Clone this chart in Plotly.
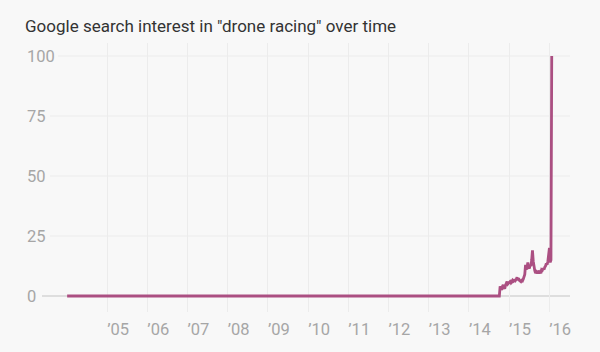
import plotly.graph_objects as go
import pandas as pd

# ---- data ----
title_text = 'Google search interest in "drone racing" over time'
year_ticks = ["2005-01-01", "2006-01-01", "2007-01-01", "2008-01-01", "2009-01-01", "2010-01-01",
              "2011-01-01", "2012-01-01", "2013-01-01", "2014-01-01", "2015-01-01", "2016-01-01"]
year_labels = ["’05", "’06", "’07", "’08", "’09", "’10", "’11", "’12", "’13", "’14", "’15", "’16"]
y_ticks = [0, 25, 50, 75, 100]

# flat (zero) period
flat_dates = ["2004-01-04"]
flat_values = [0]
# weekly values from late Sep 2014 to Jan 2016
active_start = "2014-09-28"
active_values = [0, 0, 4, 3.5, 2.5, 4, 4.6, 3.5, 3, 4.5,
                 5.5, 6, 5, 5.5, 6, 6, 5.5, 6, 6.5, 6,
                 6.2, 7, 6.5, 7, 7.8, 6.5, 7.4, 6.5, 6.2, 6,
                 6.5, 6.3, 7, 8.5, 9, 13, 11, 12, 14, 12,
                 11.5, 13, 12.5, 15, 19, 14.5, 12, 10.5, 9.5, 10,
                 9.4, 10.5, 10, 9.4, 10, 9.5, 11, 10.8, 11.5, 11,
                 12, 12.5, 13.6, 13, 14.5, 17, 20, 14, 15, 100]

active_dates = list(pd.date_range(active_start, periods=len(active_values), freq="7D").strftime("%Y-%m-%d"))
dates = flat_dates + active_dates
values = flat_values + active_values

LINE = "#ab4f82"
BG = "#f8f8f8"
GRID = "#ececec"
TICK = "#a6a6a6"
FONT = "Roboto"

L, R = 24, 570
W = R - L

fig = go.Figure()
fig.add_trace(go.Scatter(x=dates, y=values, mode="lines",
                         line=dict(color=LINE, width=2.8), hoverinfo="skip"))

fig.update_layout(
    width=600, height=352,
    margin=dict(l=L, r=600 - R, t=43, b=40),
    paper_bgcolor=BG, plot_bgcolor=BG,
    showlegend=False,
    title=dict(text=title_text, x=25/600, xanchor="left", y=1-26/352, yanchor="middle",
               font=dict(family=FONT, size=17, color="#333333")),
    xaxis=dict(range=["2002-12-08", "2016-07-08"], tickvals=year_ticks, ticktext=year_labels,
               showgrid=True, gridcolor=GRID, gridwidth=1, showline=False, zeroline=False,
               ticks="", ticklabelshift=11, ticklabelstandoff=5,
               tickfont=dict(family=FONT, size=16.5, color=TICK)),
    yaxis=dict(range=[-6.67, 105.4], tickvals=y_ticks, ticklabelposition="inside",
               showgrid=False, zeroline=False, showline=False, ticks="",
               tickfont=dict(family=FONT, size=16.5, color=TICK)),
)

# horizontal gridlines starting after the labels
grid_starts = {100: (58 - L) / W, 75: (50 - L) / W, 50: (50 - L) / W, 25: (50 - L) / W}
for yv, x0 in grid_starts.items():
    fig.add_shape(type="line", xref="paper", yref="y", x0=x0, x1=1, y0=yv, y1=yv,
                  line=dict(color=GRID, width=1), layer="below")
# baseline
fig.add_shape(type="line", xref="paper", yref="y", x0=(42 - L) / W, x1=1, y0=0, y1=0,
              line=dict(color="#c4c4c4", width=1.2), layer="below")

fig.write_html("out.html")
